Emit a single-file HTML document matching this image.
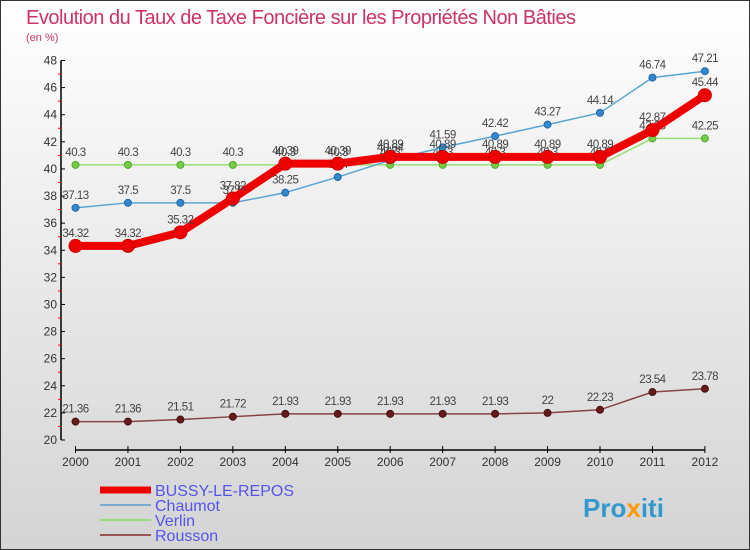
<!DOCTYPE html>
<html><head><meta charset="utf-8"><style>
body{margin:0;}
svg{display:block;font-family:"Liberation Sans",sans-serif;}
</style></head><body>
<svg width="750" height="550" xmlns="http://www.w3.org/2000/svg">
<defs><linearGradient id="bg" x1="0" y1="0" x2="0" y2="1"><stop offset="0" stop-color="#ffffff"/><stop offset="1" stop-color="#d4d4d4"/></linearGradient></defs>
<rect x="0.5" y="0.5" width="749" height="549" fill="url(#bg)" stroke="#333"/>
<text x="26" y="24" font-size="20" fill="#cc3366" textLength="550">Evolution du Taux de Taxe Foncière sur les Propriétés Non Bâties</text>
<text x="26" y="41" font-size="11" fill="#cc3366">(en %)</text>
<g id="axes"></g>
<g id="series"></g>
<g id="legend"></g>
<text x="583" y="517" font-size="26" font-weight="bold" fill="#3399cc">Pro<tspan fill="#ff9900">x</tspan>iti</text>
</svg>
<script>
const years=["2000","2001","2002","2003","2004","2005","2006","2007","2008","2009","2010","2011","2012"];
const bussy=[34.32,34.32,35.32,37.82,40.39,40.39,40.89,40.89,40.89,40.89,40.89,42.87,45.44];
const chaumot=[37.13,37.5,37.5,37.5,38.25,39.4,40.64,41.59,42.42,43.27,44.14,46.74,47.21];
const verlin=[40.3,40.3,40.3,40.3,40.3,40.3,40.3,40.3,40.3,40.3,40.3,42.25,42.25];
const rousson=[21.36,21.36,21.51,21.72,21.93,21.93,21.93,21.93,21.93,22,22.23,23.54,23.78];
const yTicks=[20,22,24,26,28,30,32,34,36,38,40,42,44,46,48];
const NS="http://www.w3.org/2000/svg";
const X=i=>75.5+i*52.45;
const Y=v=>440-(v-20)*(379.5/28);
function mk(tag,attrs,parent){const e=document.createElementNS(NS,tag);for(const k in attrs)e.setAttribute(k,attrs[k]);parent.appendChild(e);return e;}
const ax=document.getElementById('axes');
mk('line',{x1:61,y1:Y(48),x2:61,y2:Y(20),stroke:'#000','stroke-width':1.5},ax);
yTicks.forEach((t,i)=>{
  mk('line',{x1:61,y1:Y(t),x2:65,y2:Y(t),stroke:'#000'},ax);
  if(i<yTicks.length-1)mk('line',{x1:58,y1:Y(t+1),x2:61,y2:Y(t+1),stroke:'#f00'},ax);
  const tx=mk('text',{x:57,y:Y(t)+4,'font-size':12,'text-anchor':'end',fill:'#333'},ax);tx.textContent=t;
  
  
});
mk('line',{x1:X(0),y1:450,x2:X(12),y2:450,stroke:'#000','stroke-width':1.5},ax);
years.forEach((y,i)=>{
  mk('line',{x1:X(i),y1:446,x2:X(i),y2:453,stroke:'#000'},ax);
  const tx=mk('text',{x:X(i),y:466,'font-size':12,'text-anchor':'middle',fill:'#333'},ax);tx.textContent=y;
  
  
});
const ser=document.getElementById('series');
function draw(name,data,color,w,r,dot,stroke){
  const g=mk('g',{},ser);
  
  
  mk('polyline',{points:data.map((v,i)=>X(i)+','+Y(v)).join(' '),fill:'none',stroke:color,'stroke-width':w},g);
  data.forEach((v,i)=>{
    const c=mk('circle',{cx:X(i),cy:Y(v),r:r,fill:dot,stroke:stroke,'stroke-width':1},g);
    
    
    const t=mk('text',{x:X(i),y:Y(v)-9,'font-size':11.5,'text-anchor':'middle',fill:'#444','letter-spacing':'-0.5'},g);t.textContent=v;
    
    
  });
}
draw('verlin',verlin,'#99dd77',1.5,3.5,'#77cc44','#55aa33');
draw('chaumot',chaumot,'#5aa5d5',1.5,3.5,'#3388cc','#2266aa');
draw('rousson',rousson,'#884444',1.5,3.5,'#661a1a','#441111');
draw('bussy',bussy,'#ee0000',8,6.5,'#ee0000','#cc0000');
const lg=document.getElementById('legend');
const items=[["BUSSY-LE-REPOS","#ee0000",7,494,16],["Chaumot","#7aaacc",2,509,16],["Verlin","#99dd77",2,524,16],["Rousson","#995555",2,539,16]];
items.forEach(it=>{
  mk('line',{x1:100,y1:it[3]-4,x2:151,y2:it[3]-4,stroke:it[1],'stroke-width':it[2]},lg);
  const t=mk('text',{x:155,y:it[3]+2,'font-size':it[4],fill:'#5555ee'},lg);t.textContent=it[0];
  
  
});
</script>
</body></html>
